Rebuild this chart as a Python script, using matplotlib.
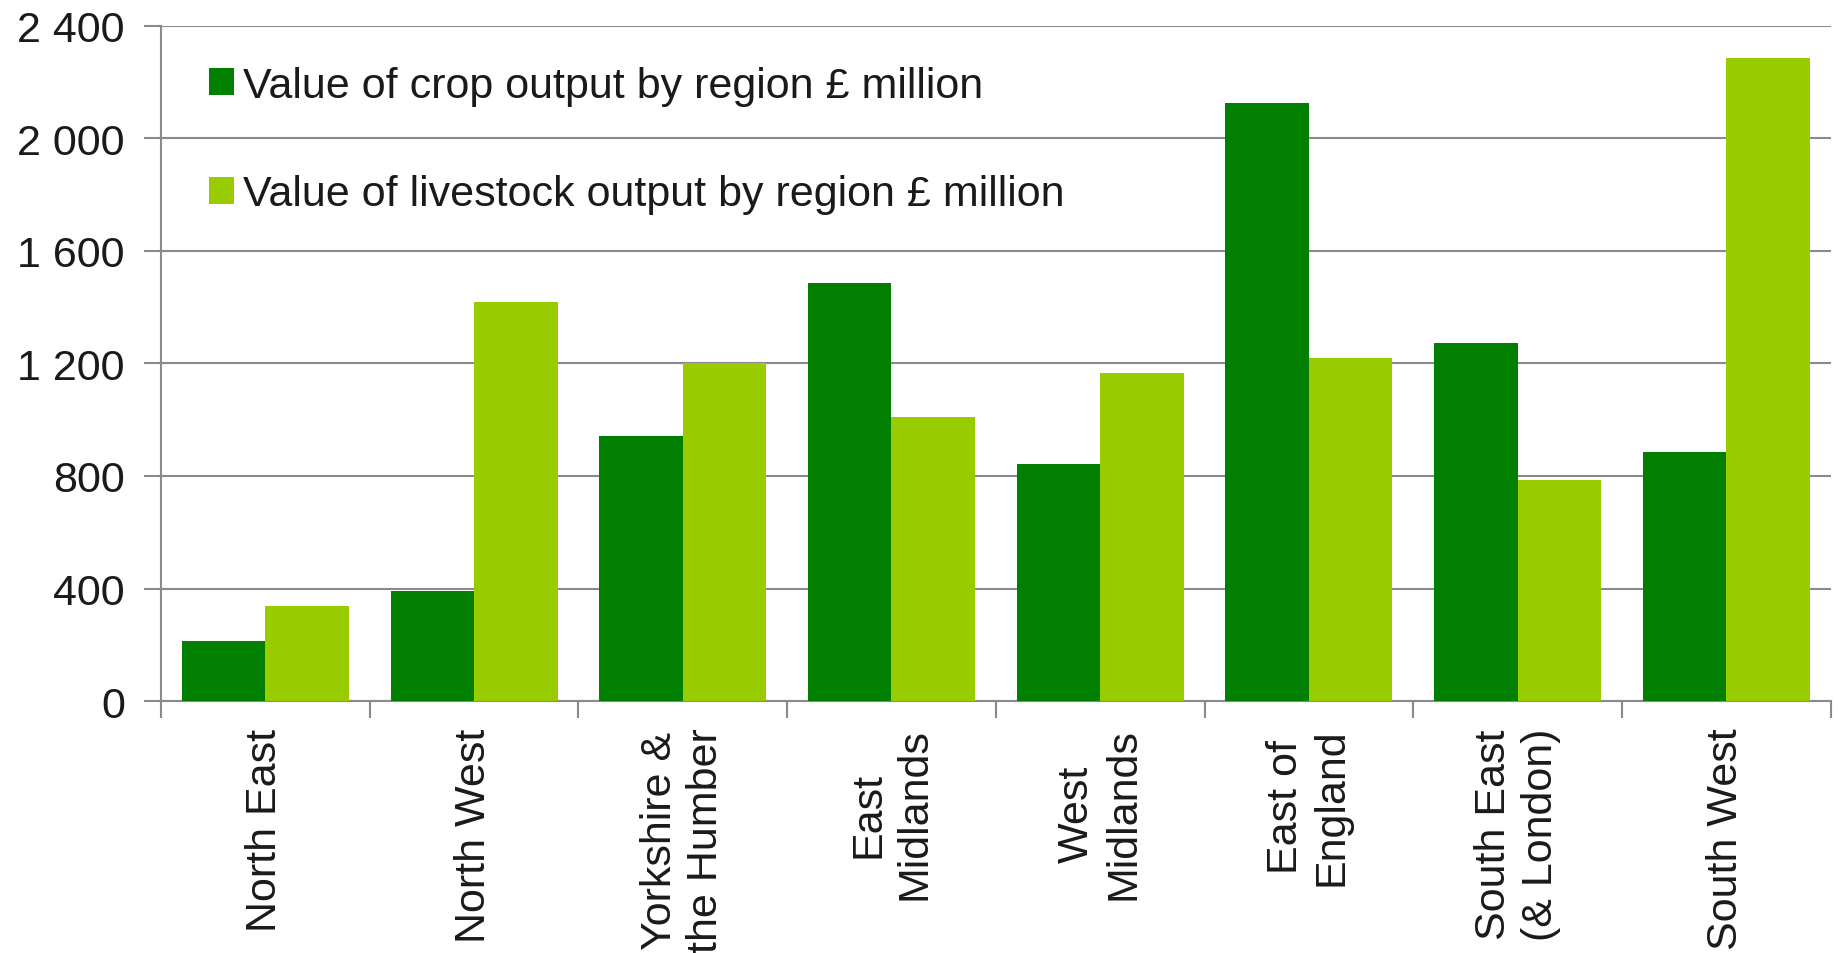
import matplotlib
matplotlib.use("Agg")
import matplotlib.pyplot as plt
import numpy as np
from matplotlib.ticker import FuncFormatter

plt.rcParams['font.family'] = ['Liberation Sans', 'DejaVu Sans']

regions = ["North East", "North West", "Yorkshire &\nthe Humber", "East\nMidlands",
           "West\nMidlands", "East of\nEngland", "South East\n(& London)", "South West"]
crop = [212, 392, 942, 1487, 842, 2125, 1271, 887]
livestock = [337, 1417, 1200, 1008, 1167, 1221, 787, 2287]
series_labels = ["Value of crop output by region £ million",
                 "Value of livestock output by region £ million"]
yticks = [0, 400, 800, 1200, 1600, 2000, 2400]

crop_color = "#007F00"
live_color = "#99CC00"
grid_color = "#8a8a8a"
text_color = "#1a1a1a"

fig = plt.figure(figsize=(18.38, 9.54), dpi=100)
ax = fig.add_axes([0.0876, 0.264, 0.9084, 0.708])

x = np.arange(len(regions))
w = 0.4
ax.bar(x - w/2, crop, width=w, color=crop_color, label=series_labels[0], zorder=3)
ax.bar(x + w/2, livestock, width=w, color=live_color, label=series_labels[1], zorder=3)

ax.set_xlim(-0.5, len(regions) - 0.5)
ax.set_ylim(0, 2400)
ax.set_yticks(yticks)
ax.yaxis.set_major_formatter(FuncFormatter(lambda v, p: f"{int(v):,}".replace(",", " ")))
ax.yaxis.grid(True, color=grid_color, lw=1.5, zorder=0)
ax.set_axisbelow(True)

for s in ["top", "right"]:
    ax.spines[s].set_visible(False)
for s in ["left", "bottom"]:
    ax.spines[s].set_color(grid_color)
    ax.spines[s].set_linewidth(1.5)

ax.tick_params(axis="y", length=12, width=1.5, color=grid_color, labelsize=31,
               labelcolor=text_color, pad=14)
# x ticks at category boundaries
ax.set_xticks(np.arange(-0.5, len(regions) + 0.5, 1.0))
ax.set_xticklabels([])
ax.tick_params(axis="x", length=12, width=1.5, color=grid_color)
ax.set_xticks(x, minor=True)
ax.set_xticklabels(regions, minor=True, rotation=90, fontsize=31, color=text_color,
                   ha="center", va="top", multialignment="center", linespacing=1.2)
ax.tick_params(axis="x", which="minor", length=0, pad=19)

leg = ax.legend(loc="upper left", bbox_to_anchor=(0.029, 0.941), frameon=False,
                fontsize=31, handlelength=0.58, handleheight=0.58, handletextpad=0.2,
                labelspacing=1.6, borderpad=0, borderaxespad=0)
for t in leg.get_texts():
    t.set_color(text_color)

fig.savefig("out.png", dpi=100, facecolor="white")
